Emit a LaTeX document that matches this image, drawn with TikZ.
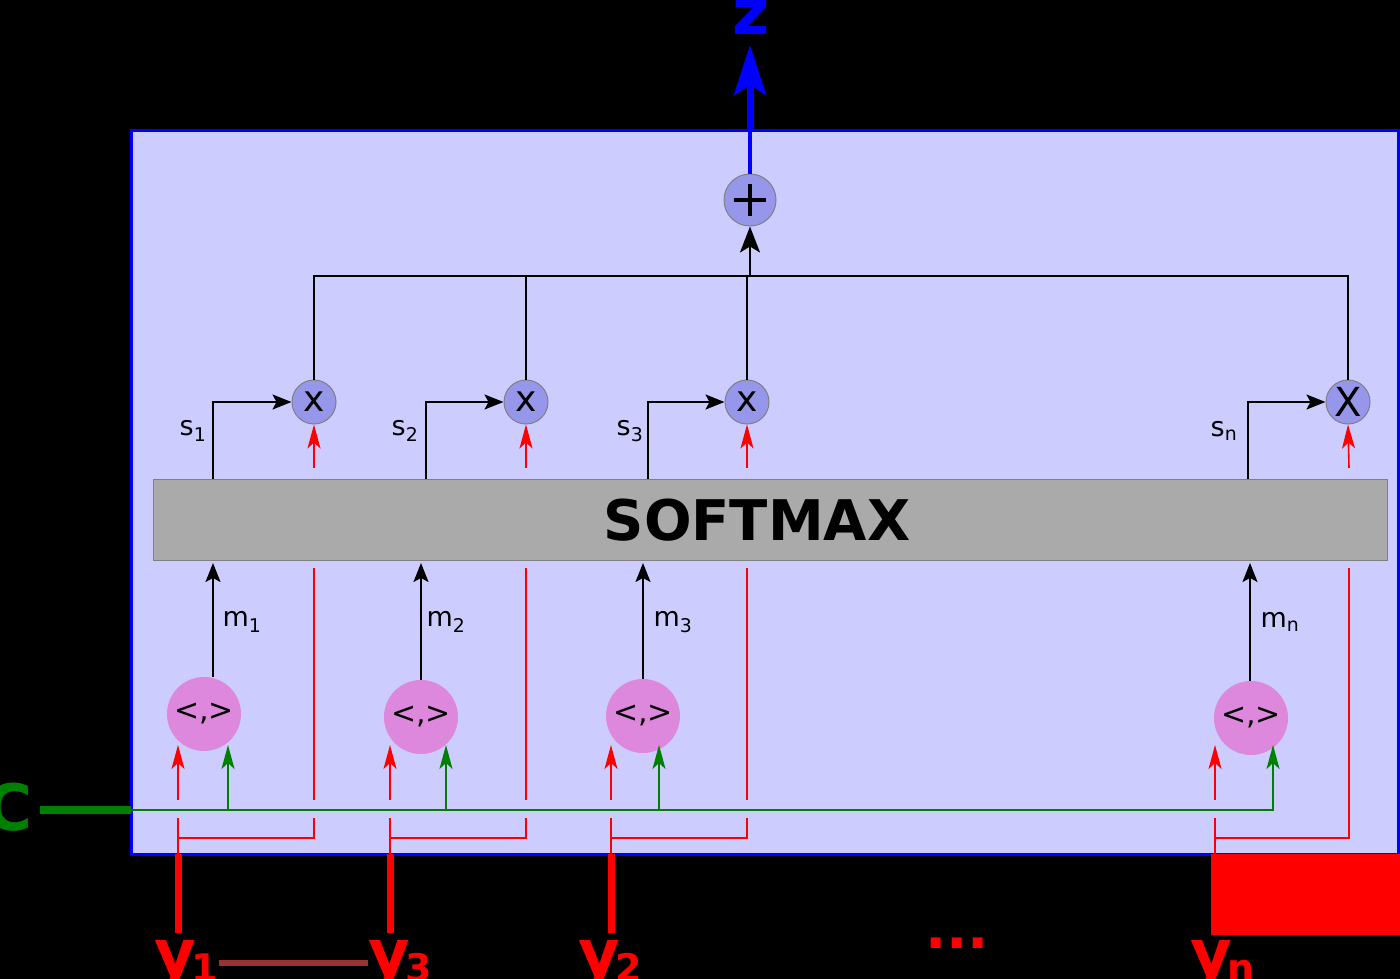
\documentclass[tikz,border=0pt]{standalone}
\usepackage{fontspec}
\setmainfont{DejaVu Sans}
\usetikzlibrary{arrows.meta}
\definecolor{boxfill}{RGB}{204,204,255}
\definecolor{mulfill}{RGB}{150,150,235}
\definecolor{ipfill}{RGB}{221,136,221}
\definecolor{softfill}{RGB}{170,170,170}
\definecolor{grn}{RGB}{0,128,0}
\definecolor{darkred}{RGB}{153,51,51}
\newcommand{\ylab}[1]{y\kern-4pt\raisebox{-6pt}{\fontsize{38}{38}\selectfont #1}}
\begin{document}
\begin{tikzpicture}[x=1pt,y=-1pt,
  blk/.style={draw=black, line width=1.8pt},
  blkarr/.style={blk, -{Stealth[length=19pt,width=15pt,inset=4pt]}},
  redl/.style={draw=red, line width=1.6pt},
  redarr/.style={redl, -{Stealth[length=24pt,width=13pt,inset=6pt]}},
  grnl/.style={draw=grn, line width=2.4pt},
  grnarr/.style={grnl, -{Stealth[length=24pt,width=13pt,inset=6pt]}},
  mulnode/.style={circle, fill=mulfill, draw=gray, line width=1pt, minimum size=44pt, inner sep=0pt, font=\fontsize{36}{36}\selectfont},
  ipnode/.style={circle, fill=ipfill, minimum size=74pt, inner sep=0pt, font=\fontsize{30}{30}\selectfont},
  lbl/.style={inner sep=0pt, font=\fontsize{27}{27}\selectfont},
  big/.style={inner sep=0pt, font=\fontsize{64}{64}\selectfont\bfseries},
  thickred/.style={draw=red, line width=7pt}
]
\useasboundingbox (0,0) rectangle (1400,979);
\fill[black] (0,0) rectangle (1400,979);

% main box
\draw[fill=boxfill, draw=blue, line width=3pt] (131,131) rectangle (1398,854);

% softmax
\node[draw=gray, fill=softfill, line width=1pt, minimum width=1234pt, minimum height=81pt, inner sep=0pt] (soft) at (770,519.5) {};
\node[inner sep=0pt, font=\fontsize{56}{56}\selectfont\bfseries] (softtxt) at (757,520) {SOFTMAX};

% plus node
\node[circle, fill=mulfill, draw=gray, line width=1pt, minimum size=52pt, inner sep=0pt] (plus) at (750,200) {};
\draw[line width=4pt] (plus.center) ++(-16,0) -- ++(32,0);
\draw[line width=4pt] (plus.center) ++(0,-16) -- ++(0,32);

% multipliers
\node[mulnode] (mul1) at (314,402) {x};
\node[mulnode] (mul2) at (526,402) {x};
\node[mulnode] (mul3) at (747,402) {x};
\node[mulnode, font=\fontsize{40}{40}\selectfont] (mul4) at (1348,402) {X};

% inner product nodes
\node[ipnode] (ip1) at (204,714) {<,>};
\node[ipnode] (ip2) at (421,717) {<,>};
\node[ipnode] (ip3) at (643,716) {<,>};
\node[ipnode] (ip4) at (1251,718) {<,>};

% sum bus
\coordinate (busL) at (314,276);
\coordinate (busR) at (1348,276);
\coordinate (busM) at (750,276);
\draw[blk] (mul1.north) -- (busL) -- (busR) -- (mul4.north);
\draw[blk] (mul2.north) -- (mul2.north |- busL);
\draw[blk] (mul3.north) -- (mul3.north |- busL);
\draw[blk, -{Stealth[length=26pt,width=20pt,inset=6pt]}] (busM) -- (plus.south);

% output z
\coordinate (boxtop) at (750,131);
\coordinate (ztip) at (750,45);
\draw[draw=blue, line width=4pt] (plus.north) -- (boxtop);
\draw[draw=blue, line width=7pt, -{Stealth[length=50pt,width=32pt,inset=10pt]}] (boxtop) -- (ztip);
\node[big, text=blue, anchor=base] (z) at (751,35) {z};

% s arrows
\coordinate (s1b) at (213,479);
\coordinate (s2b) at (426,479);
\coordinate (s3b) at (648,479);
\coordinate (s4b) at (1248,479);
\draw[blkarr] (s1b) |- (mul1.west);
\draw[blkarr] (s2b) |- (mul2.west);
\draw[blkarr] (s3b) |- (mul3.west);
\draw[blkarr] (s4b) |- (mul4.west);
\node[lbl] (s1) at (193,431) {s\textsubscript{1}};
\node[lbl] (s2) at (405,431) {s\textsubscript{2}};
\node[lbl] (s3) at (630,431) {s\textsubscript{3}};
\node[lbl] (s4) at (1224,431) {s\textsubscript{n}};

% m arrows
\coordinate (m1t) at (213,563);
\coordinate (m2t) at (421,563);
\coordinate (m3t) at (643,563);
\coordinate (m4t) at (1250,563);
\draw[blkarr] (ip1.north -| m1t) -- (m1t);
\draw[blkarr] (ip2.north) -- (m2t);
\draw[blkarr] (ip3.north) -- (m3t);
\draw[blkarr] (ip4.north -| m4t) -- (m4t);
\node[lbl] (m1) at (242,622) {m\textsubscript{1}};
\node[lbl] (m2) at (446,622) {m\textsubscript{2}};
\node[lbl] (m3) at (673,622) {m\textsubscript{3}};
\node[lbl] (m4) at (1280,622) {m\textsubscript{n}};

% red arrows into multipliers (above softmax)
\coordinate (r1a) at (314,468);
\coordinate (r2a) at (526,468);
\coordinate (r3a) at (747,468);
\coordinate (r4a) at (1349,468);
\draw[redarr] (r1a) -- (mul1.south);
\draw[redarr] (r2a) -- (mul2.south);
\draw[redarr] (r3a) -- (mul3.south);
\draw[redarr] (r4a) -- (mul4.south);

% green line
\coordinate (cEnd) at (40,810);
\coordinate (cBox) at (131,810);
\coordinate (gEnd) at (1273,810);
\draw[draw=grn, line width=8pt] (cEnd) -- (cBox);
\draw[grnarr] (cBox) -- (gEnd) -- (1273,745);
\draw[grnarr] (228,810) -- (228,745);
\draw[grnarr] (446,810) -- (446,745);
\draw[grnarr] (659,810) -- (659,745);
\node[big, text=grn, anchor=base east] (C) at (33,830) {C};

% red routing for each group
\foreach \xr/\xm in {178/314, 390/526, 611/747} {
  \draw[redarr] (\xr,800) -- (\xr,745);
  \draw[redl] (\xm,800) -- (\xm,568);
  \draw[redl] (\xr,818) -- (\xr,854);
  \draw[redl] (\xr,838) -- (\xm,838) -- (\xm,818);
}
\draw[redarr] (1215,800) -- (1215,745);
\draw[redl] (1215,818) -- (1215,854);
\draw[redl] (1215,838) -- (1349,838) -- (1349,568);

% inputs below box
\coordinate (y1t) at (178,854);
\coordinate (y3t) at (390,854);
\coordinate (y2t) at (611,854);
\draw[thickred] (y1t) -- (178,933);
\draw[thickred] (y3t) -- (390,933);
\draw[thickred] (y2t) -- (611,933);
\fill[red] (1211,854) rectangle (1400,935);

\node[big, text=red, anchor=base west] (y1) at (154,975) {\ylab{1}};
\node[big, text=red, anchor=base west] (y3) at (368,975) {\ylab{3}};
\node[big, text=red, anchor=base west] (y2) at (578,975) {\ylab{2}};
\node[big, text=red, anchor=base west] (yn) at (1190,975) {\ylab{n}};
\draw[draw=darkred, line width=6pt] (y1.east |- 0,963) -- (y3.west |- 0,963);
\node[inner sep=0pt, text=red, font=\fontsize{56}{56}\selectfont\bfseries, anchor=base] (dots) at (957,948) {...};
\end{tikzpicture}
\end{document}
